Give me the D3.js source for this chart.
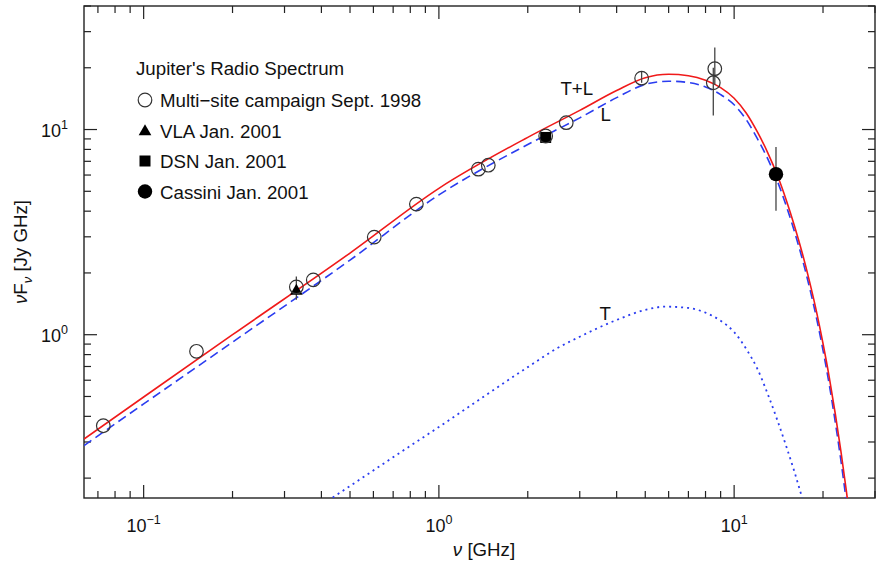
<!DOCTYPE html>
<html>
<head>
<meta charset="utf-8">
<script src="https://cdn.jsdelivr.net/npm/d3@7"></script>
<style>
  body { margin: 0; background: #fff; }
  svg { display: block; font-family: "Liberation Sans", Arial, sans-serif; }
</style>
</head>
<body>
<svg id="chart" width="876" height="564"></svg>
<script>
// data: [GHz, Jy GHz] and error bars [GHz, val, lo, hi]
var multiSite = [
    [0.073, 0.36], [0.151, 0.83], [0.329, 1.71], [0.3755, 1.85], [0.604, 2.99],
    [0.839, 4.33], [1.36, 6.41], [1.47, 6.70], [2.30, 9.30], [2.70, 10.8],
    [4.86, 17.8], [8.6, 19.8], [8.5, 16.9]
];
var multiSiteErr = [
    [0.329, 1.71, 1.48, 1.92], [4.86, 17.8, 16.9, 19.2],
    [8.6, 19.8, 16.5, 25.1], [8.5, 16.9, 11.7, 20.0]
];
var vla = [[0.329, 1.65]];
var dsn = [[2.30, 9.15]];
var cassini = [[13.86, 6.06, 4.02, 8.23]];

// model curves (T+L, L, T) sampled along the drawn lines
var curveTL = [
    [0.0628, 0.31], [0.1, 0.497], [0.2, 1.0], [0.5, 2.5], [1.0, 5.17], [2.0, 9.16],
    [3.0, 12.4], [4.0, 15.5], [5.0, 17.9], [6.0, 18.6], [7.0, 18.3], [8.0, 17.4],
    [9.0, 16.0], [10, 14.2], [11, 12.0], [12, 9.7], [13, 7.7], [14, 6.0], [15, 4.55],
    [16, 3.4], [17, 2.51], [18, 1.82], [19, 1.30], [20, 0.906], [21, 0.62],
    [22, 0.413], [23, 0.27], [24, 0.173], [25, 0.108]
];
var curveL = [
    [0.0628, 0.288], [0.1, 0.46], [0.2, 0.92], [0.5, 2.31], [1.0, 4.8], [2.0, 8.45],
    [3.0, 11.4], [4.0, 14.3], [5.0, 16.6], [6.0, 17.2], [7.0, 16.95], [8.0, 16.1],
    [9.0, 14.8], [10, 13.2], [11, 11.15], [12, 9.0], [13, 7.19], [14, 5.62], [15, 4.26],
    [16, 3.19], [17, 2.35], [18, 1.70], [19, 1.21], [20, 0.84], [21, 0.57],
    [22, 0.376], [23, 0.243], [24, 0.153], [25, 0.093]
];
var curveT = [
    [0.42, 0.155], [0.5, 0.183], [0.741, 0.267], [1.0, 0.355], [2.0, 0.695], [2.52, 0.86],
    [3.0, 0.978], [4.0, 1.18], [5.0, 1.32], [5.8, 1.37], [7.0, 1.35], [8.0, 1.28],
    [9.0, 1.17], [10, 1.03], [11, 0.85], [12, 0.68], [13, 0.513], [14, 0.384],
    [15, 0.287], [16, 0.215], [17, 0.16], [18, 0.12]
];

var xTicksMajor = [0.1, 1, 10];
var xTicksMinor = [0.07, 0.08, 0.09, 0.2, 0.3, 0.4, 0.5, 0.6, 0.7, 0.8, 0.9,
    2, 3, 4, 5, 6, 7, 8, 9, 20, 30];
var yTicksMajor = [1, 10];
var yTicksMinor = [0.2, 0.3, 0.4, 0.5, 0.6, 0.7, 0.8, 0.9, 2, 3, 4, 5, 6, 7, 8, 9, 20, 30, 40];
var xExp = {0.1: '\u22121', 1: '0', 10: '1'};
var yExp = {1: '0', 10: '1'};

var curveLabels = [
    {text: 'T+L', x: 2.58, y: 14.7},
    {text: 'L', x: 3.53, y: 10.97},
    {text: 'T', x: 3.50, y: 1.18}
];

var legendItems = [
    {label: 'Multi\u2212site campaign Sept. 1998', shape: 'openCircle'},
    {label: 'VLA Jan. 2001', shape: 'triangle'},
    {label: 'DSN Jan. 2001', shape: 'square'},
    {label: 'Cassini Jan. 2001', shape: 'filledCircle'}
];

(function() {
    var svg = d3.select('#chart');
    var mLeft = 84, mRight = 875, mTop = 6, mBottom = 498;
    var fs = 18.7;

    var x = d3.scaleLog().domain([0.0628, 30]).range([mLeft, mRight]);
    var y = d3.scaleLog().domain([0.16, 40]).range([mBottom, mTop]);

    svg.append('defs').append('clipPath').attr('id', 'plotclip')
        .append('rect')
        .attr('x', mLeft).attr('y', mTop)
        .attr('width', mRight - mLeft).attr('height', mBottom - mTop);

    var axisColor = '#222';

    // ticks (inward on all four sides)
    function drawXTicks(vals, len) {
        var g = svg.append('g').attr('stroke', axisColor).attr('stroke-width', 1.2);
        vals.forEach(function(v) {
            var px = x(v);
            g.append('line').attr('x1', px).attr('x2', px).attr('y1', mBottom).attr('y2', mBottom - len);
            g.append('line').attr('x1', px).attr('x2', px).attr('y1', mTop).attr('y2', mTop + len);
        });
    }
    function drawYTicks(vals, len) {
        var g = svg.append('g').attr('stroke', axisColor).attr('stroke-width', 1.2);
        vals.forEach(function(v) {
            var py = y(v);
            g.append('line').attr('y1', py).attr('y2', py).attr('x1', mLeft).attr('x2', mLeft + len);
            g.append('line').attr('y1', py).attr('y2', py).attr('x1', mRight).attr('x2', mRight - len);
        });
    }
    drawXTicks(xTicksMinor, 7);
    drawXTicks(xTicksMajor, 13);
    drawYTicks(yTicksMinor, 7);
    drawYTicks(yTicksMajor, 13);

    svg.append('rect')
        .attr('x', mLeft).attr('y', mTop)
        .attr('width', mRight - mLeft).attr('height', mBottom - mTop)
        .attr('fill', 'none').attr('stroke', axisColor).attr('stroke-width', 1.4);

    // tick labels
    xTicksMajor.forEach(function(v) {
        var t = svg.append('text')
            .attr('x', x(v)).attr('y', 532)
            .attr('text-anchor', 'middle')
            .attr('font-size', 18).attr('fill', '#111');
        t.append('tspan').text('10');
        t.append('tspan').attr('font-size', 12.5).attr('dy', -8).text(xExp[v]);
    });
    yTicksMajor.forEach(function(v) {
        var t = svg.append('text')
            .attr('x', 68).attr('y', y(v) + 7)
            .attr('text-anchor', 'end')
            .attr('font-size', 18).attr('fill', '#111');
        t.append('tspan').text('10');
        t.append('tspan').attr('font-size', 12.5).attr('dy', -8).text(yExp[v]);
    });

    // axis titles
    var xt = svg.append('text')
        .attr('x', 484).attr('y', 556)
        .attr('text-anchor', 'middle')
        .attr('font-size', fs).attr('fill', '#111');
    xt.append('tspan').attr('font-style', 'italic').text('\u03bd');
    xt.append('tspan').text(' [GHz]');

    var yt = svg.append('text')
        .attr('transform', 'translate(27,252) rotate(-90)')
        .attr('text-anchor', 'middle')
        .attr('font-size', fs).attr('fill', '#111');
    yt.append('tspan').attr('font-style', 'italic').text('\u03bd');
    yt.append('tspan').text('F');
    yt.append('tspan').attr('font-size', 13).attr('dy', 5).attr('font-style', 'italic').text('\u03bd');
    yt.append('tspan').attr('dy', -5).text(' [Jy GHz]');

    // model curves
    var line = d3.line()
        .x(function(d) { return x(d[0]); })
        .y(function(d) { return y(d[1]); })
        .curve(d3.curveMonotoneX);

    var curves = svg.append('g').attr('clip-path', 'url(#plotclip)').attr('fill', 'none');
    curves.append('path').datum(curveT)
        .attr('d', line).attr('stroke', '#2a3cf0').attr('stroke-width', 1.8)
        .attr('stroke-dasharray', '2,4');
    curves.append('path').datum(curveL)
        .attr('d', line).attr('stroke', '#2a3cf0').attr('stroke-width', 1.6)
        .attr('stroke-dasharray', '9,5');
    curves.append('path').datum(curveTL)
        .attr('d', line).attr('stroke', '#f01a1a').attr('stroke-width', 1.6);

    curveLabels.forEach(function(d) {
        svg.append('text')
            .attr('x', x(d.x)).attr('y', y(d.y))
            .attr('font-size', fs).attr('fill', '#111')
            .text(d.text);
    });

    // error bars
    var errs = svg.append('g').attr('stroke', '#444').attr('stroke-width', 1.3);
    multiSiteErr.concat(cassini).forEach(function(d) {
        errs.append('line')
            .attr('x1', x(d[0])).attr('x2', x(d[0]))
            .attr('y1', y(d[2])).attr('y2', y(d[3]));
    });

    // symbols
    function drawShape(g, shape, cx, cy) {
        if (shape === 'openCircle') {
            g.append('circle').attr('cx', cx).attr('cy', cy).attr('r', 6.8)
                .attr('fill', 'none').attr('stroke', '#333').attr('stroke-width', 1.2);
        } else if (shape === 'filledCircle') {
            g.append('circle').attr('cx', cx).attr('cy', cy).attr('r', 7.2)
                .attr('fill', '#000');
        } else if (shape === 'triangle') {
            g.append('path')
                .attr('d', d3.symbol().type(d3.symbolTriangle).size(70)())
                .attr('transform', 'translate(' + cx + ',' + (cy + 1) + ')')
                .attr('fill', '#000');
        } else if (shape === 'square') {
            g.append('rect').attr('x', cx - 5.5).attr('y', cy - 5.5)
                .attr('width', 11).attr('height', 11).attr('fill', '#000');
        }
    }

    var pts = svg.append('g');
    vla.forEach(function(d) { drawShape(pts, 'triangle', x(d[0]), y(d[1])); });
    dsn.forEach(function(d) { drawShape(pts, 'square', x(d[0]), y(d[1])); });
    cassini.forEach(function(d) { drawShape(pts, 'filledCircle', x(d[0]), y(d[1])); });
    multiSite.forEach(function(d) { drawShape(pts, 'openCircle', x(d[0]), y(d[1])); });

    // legend
    var legend = svg.append('g');
    legend.append('text')
        .attr('x', 136).attr('y', 75)
        .attr('font-size', fs).attr('fill', '#111')
        .text("Jupiter's Radio Spectrum");
    legendItems.forEach(function(d, i) {
        var cy = 100 + i * 30.5;
        drawShape(legend, d.shape, 145, cy);
        legend.append('text')
            .attr('x', 160).attr('y', cy + 7)
            .attr('font-size', fs).attr('fill', '#111')
            .text(d.label);
    });
}());
</script>
</body>
</html>
